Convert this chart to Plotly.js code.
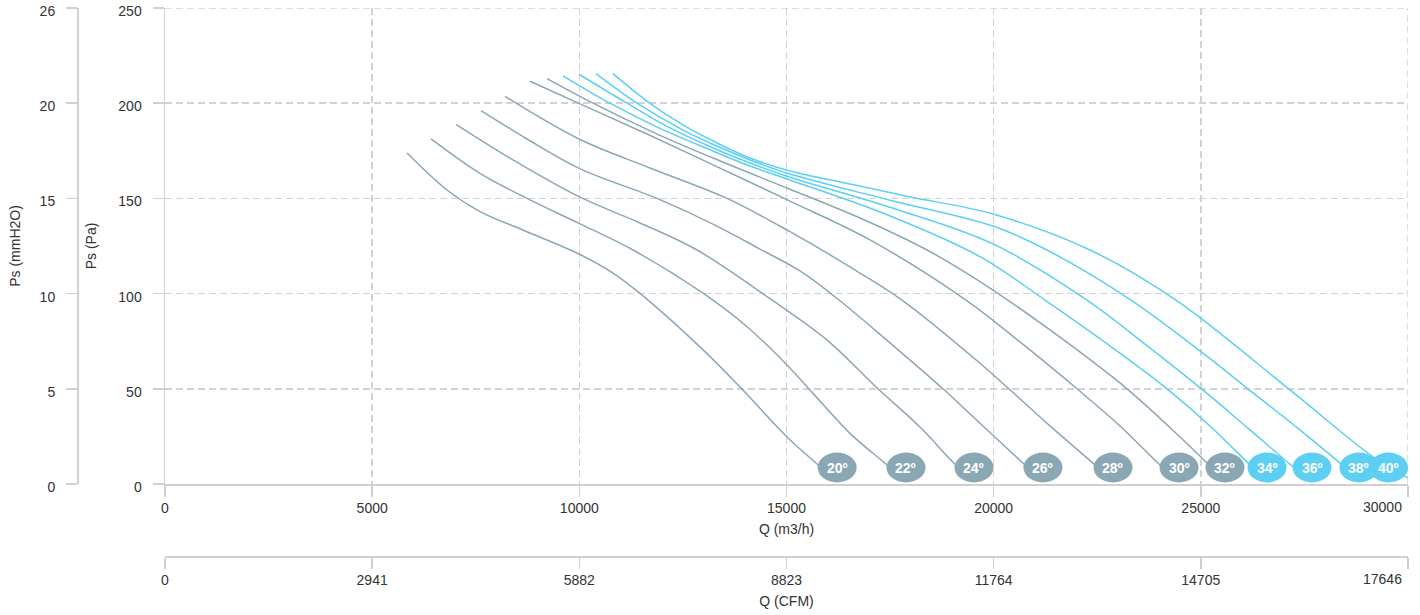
<!DOCTYPE html>
<html>
<head>
<meta charset="utf-8">
<script src="https://cdn.plot.ly/plotly-3.0.1.min.js"></script>
<style>html,body{margin:0;padding:0;background:#fff;}#chart{width:1420px;height:615px;}</style>
</head>
<body>
<div id="chart"></div>
<script>
// ---- data ----
const angleLabels = ['20º','22º','24º','26º','28º','30º','32º','34º','36º','38º','40º'];

const q20 = [5841, 6806, 7603, 8640, 9992, 10812, 11464, 12912, 13878, 15012, 15763, 16222];
const pa20 = [173.8, 154.4, 143.1, 133.4, 120.8, 110.8, 100.1, 72.0, 50.9, 24.7, 10.0, 1.1];

const q22 = [6420, 7603, 8809, 9992, 11295, 12985, 14047, 15012, 15639, 16532, 17425, 17884];
const pa22 = [181.3, 163.2, 149.2, 136.9, 122.9, 100.2, 82.6, 62.5, 47.6, 26.6, 10.0, 1.1];

const q24 = [7023, 8399, 9992, 11464, 12840, 14602, 15980, 17208, 18222, 19043, 19525];
const pa24 = [188.9, 170.2, 150.9, 137.1, 122.9, 97.3, 75.6, 50.0, 29.9, 10.9, 1.1];

const q26 = [7627, 8737, 9992, 11874, 13274, 14360, 15326, 16207, 17498, 18777, 19670, 20756, 21190];
const pa26 = [196.1, 181.2, 165.8, 150.0, 136.0, 123.4, 111.9, 97.7, 74.1, 50.0, 31.9, 10.0, 1.1];

const q28 = [8206, 9992, 11705, 13564, 15084, 16774, 17787, 19670, 21359, 22446, 22880];
const pa28 = [203.6, 181.2, 166.0, 150.0, 132.5, 110.8, 96.6, 63.4, 30.5, 10.0, 1.1];

const q30 = [8809, 10137, 11633, 13395, 15084, 17015, 19332, 20635, 22011, 23049, 24014, 24473];
const pa30 = [211.5, 198.5, 183.8, 165.9, 148.6, 128.2, 96.6, 74.6, 50.0, 30.5, 10.0, 1.1];

const q32 = [9220, 10330, 11826, 13226, 15084, 16774, 18391, 19670, 21359, 23218, 24497, 25149, 25583];
const pa32 = [212.9, 200.0, 184.3, 171.2, 154.8, 139.7, 122.9, 106.3, 80.9, 50.0, 24.7, 11.0, 1.1];

const q34 = [9606, 10740, 11947, 13226, 14119, 15084, 17474, 19670, 21239, 22808, 24183, 25221, 26138, 26597];
const pa34 = [214.4, 200.0, 186.8, 174.9, 167.0, 159.7, 141.0, 119.4, 96.6, 72.5, 50.0, 30.5, 11.0, 1.1];

const q36 = [9992, 11150, 12188, 13226, 14119, 15084, 17474, 19984, 22252, 23652, 25004, 26186, 27224, 27683];
const pa36 = [215.2, 200.0, 187.0, 176.5, 168.6, 161.1, 145.5, 126.1, 96.6, 73.5, 50.2, 28.4, 9.1, 1.1];

const q38 = [10402, 11392, 12502, 13322, 14119, 15084, 17474, 19984, 21287, 23314, 25004, 26138, 27393, 28407, 28817];
const pa38 = [215.5, 200.0, 185.9, 177.5, 170.2, 162.8, 149.2, 135.5, 122.9, 96.6, 69.5, 50.0, 28.4, 10.0, 1.1];

const q40 = [10812, 11705, 12502, 13322, 14119, 15084, 16532, 17956, 19984, 22325, 24400, 27152, 29155, 30000];
const pa40 = [215.5, 199.9, 188.6, 179.1, 171.2, 164.4, 157.6, 150.9, 141.8, 122.9, 96.6, 49.4, 14.3, 3.2];

const qTicks = [0, 5000, 10000, 15000, 20000, 25000, 30000];
const cfmTicks = [0, 2941, 5882, 8823, 11764, 14705, 17646];
const paTicks = [0, 50, 100, 150, 200, 250];
const mmTicks = [0, 5, 10, 15, 20, 25];
const mmTickText = ['0', '5', '10', '15', '20', '26'];

// ---- styling ----
const GREY = '#8aa8b3';
const CYAN = '#5ccff3';
const GRIDC = '#d3d3d3';
const LINEC = '#d0d0d0';
const FONT = 'Liberation Sans, Arial, sans-serif';
const qSeries = [q20, q22, q24, q26, q28, q30, q32, q34, q36, q38, q40];
const paSeries = [pa20, pa22, pa24, pa26, pa28, pa30, pa32, pa34, pa36, pa38, pa40];

const W = 1420, H = 615;
const margin = {l: 77, r: 12, t: 8, b: 59};
const xDomStart = 88 / (W - margin.l - margin.r);
const yDomStart = 72 / (H - margin.t - margin.b);
const plotPxW = (W - margin.l - margin.r) * (1 - xDomStart);
const qMax = qTicks[qTicks.length - 1];
const paMax = paTicks[paTicks.length - 1];
const unitsPerPx = qMax / plotPxW;
const halfW = 19.5;

const traces = qSeries.map((q, i) => ({
  type: 'scatter', mode: 'lines', x: q, y: paSeries[i],
  line: {color: i < 7 ? GREY : CYAN, width: 1.5, shape: 'spline', smoothing: 1},
  hoverinfo: 'skip', showlegend: false
}));
// carrier trace for secondary axes
traces.push({type: 'scatter', mode: 'lines', x: [null], y: [null], xaxis: 'x2', yaxis: 'y2', showlegend: false, hoverinfo: 'skip'});

const shapes = [
  // dashed grid lines at the far edges (Plotly drops grid lines lying on the range ends)
  {type: 'line', xref: 'x', yref: 'y', x0: qTicks[0], x1: qMax, y0: paMax, y1: paMax, layer: 'below',
   line: {color: GRIDC, width: 1.5, dash: '7px,4px'}},
  {type: 'line', xref: 'x', yref: 'y', x0: qMax, x1: qMax, y0: paTicks[0], y1: paMax, layer: 'below',
   line: {color: GRIDC, width: 1.5, dash: '7px,4px'}}
];
const annotations = [];
qSeries.forEach((q, i) => {
  const last = q[q.length - 1];
  const ax = Math.min(last, qMax - halfW * unitsPerPx);
  const col = i < 7 ? GREY : CYAN;
  shapes.push({type: 'circle', xref: 'x', yref: 'y', xsizemode: 'pixel', ysizemode: 'pixel',
    xanchor: ax, yanchor: 0, x0: -halfW, x1: halfW, y0: 1.5, y1: 31.5,
    fillcolor: col, line: {width: 0}, layer: 'above'});
  annotations.push({xref: 'x', yref: 'y', x: ax, y: 0, yshift: 16.5, text: '<b>' + angleLabels[i] + '</b>',
    showarrow: false, font: {family: FONT, size: 14, color: '#ffffff'},
    xanchor: 'center', yanchor: 'middle'});
});
// last x tick labels kept inside the chart (as the original does)
annotations.push({xref: 'x', yref: 'y', x: qMax, y: 0, yshift: -23, xshift: -4, text: String(qMax),
  showarrow: false, xanchor: 'right', yanchor: 'middle', font: {family: FONT, size: 14, color: '#333333'}});
annotations.push({xref: 'x', yref: 'paper', x: qMax, y: 0, yshift: -23, xshift: -4, text: String(cfmTicks[cfmTicks.length - 1]),
  showarrow: false, xanchor: 'right', yanchor: 'middle', font: {family: FONT, size: 14, color: '#333333'}});

const axisCommon = {
  showline: true, linecolor: LINEC, linewidth: 1.5,
  ticks: 'outside', ticklen: 11, tickcolor: LINEC, tickwidth: 1.5,
  tickfont: {family: FONT, size: 14, color: '#333333'},
  zeroline: false, fixedrange: true, ticklabeloverflow: 'allow'
};
const gridCommon = {showgrid: true, gridcolor: GRIDC, gridwidth: 1.5, griddash: '7px,4px'};
const titleFont = {family: FONT, size: 14, color: '#333333'};
const lastBlank = arr => arr.map((v, i) => i === arr.length - 1 ? '' : String(v));

const layout = {
  width: W, height: H, margin: margin,
  paper_bgcolor: '#ffffff', plot_bgcolor: '#ffffff',
  showlegend: false,
  xaxis: Object.assign({}, axisCommon, gridCommon, {
    domain: [xDomStart, 1], anchor: 'y', range: [0, qMax],
    tickmode: 'array', tickvals: qTicks, ticktext: lastBlank(qTicks),
    title: {text: 'Q (m3/h)', font: titleFont, standoff: 9}
  }),
  yaxis: Object.assign({}, axisCommon, gridCommon, {
    domain: [yDomStart, 1], anchor: 'x', range: [0, paMax],
    tickmode: 'array', tickvals: paTicks, ticktext: paTicks.map(String),
    ticklabelstandoff: 8, ticklabelshift: 3,
    title: {text: 'Ps (Pa)', font: titleFont, standoff: 18}
  }),
  xaxis2: Object.assign({}, axisCommon, {
    overlaying: 'x', anchor: 'free', position: 0, side: 'bottom',
    range: [0, qMax / 1.7], showgrid: false,
    tickmode: 'array', tickvals: cfmTicks, ticktext: lastBlank(cfmTicks),
    title: {text: 'Q (CFM)', font: titleFont, standoff: 9}
  }),
  yaxis2: Object.assign({}, axisCommon, {
    overlaying: 'y', anchor: 'free', position: 0, side: 'left',
    range: [0, 25], showgrid: false,
    tickmode: 'array', tickvals: mmTicks, ticktext: mmTickText,
    ticklabelstandoff: 8, ticklabelshift: 3,
    title: {text: 'Ps (mmH2O)', font: titleFont, standoff: 14}
  }),
  shapes: shapes,
  annotations: annotations
};

Plotly.newPlot('chart', traces, layout, {displayModeBar: false, staticPlot: true});
</script>
</body>
</html>
